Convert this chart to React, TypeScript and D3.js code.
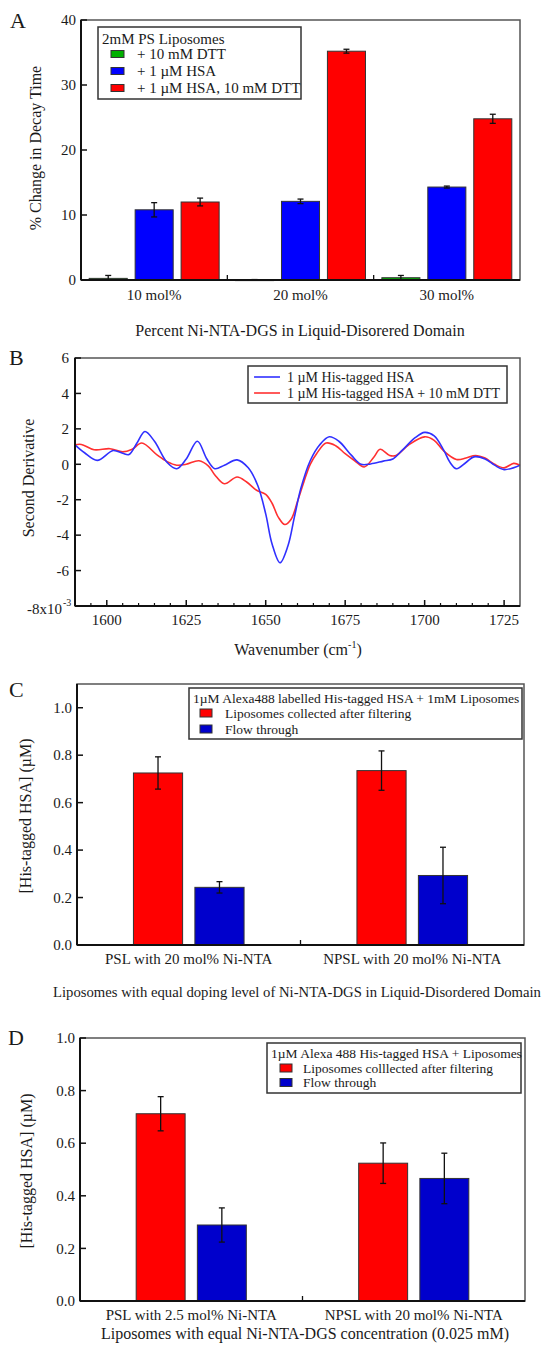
import React from 'react';
import * as d3 from 'd3';

const FONT = '"Liberation Serif","Times New Roman",Times,serif';
const INK = '#1a1a1a';

// ---------- Panel A ----------
const aCategories = ['10 mol%', '20 mol%', '30 mol%'];
const aLegendTitle = '2mM PS Liposomes';
const aSeriesNames = ['+ 10 mM DTT', '+ 1 µM HSA', '+ 1 µM HSA, 10 mM DTT'];
const aDTT = [0.25, 0.03, 0.35];
const aDTTErr = [0.45, 0.04, 0.35];
const aHSA = [10.8, 12.1, 14.3];
const aHSAErr = [1.1, 0.35, 0.15];
const aHSADTT = [12.0, 35.2, 24.8];
const aHSADTTErr = [0.6, 0.3, 0.7];
const aYTicks = [0, 10, 20, 30, 40];

// ---------- Panel B ----------
const bLegend = ['1 µM His-tagged HSA', '1 µM His-tagged HSA + 10 mM DTT'];
const bXTicks = [1600, 1625, 1650, 1675, 1700, 1725];
const bYTicks = [6, 4, 2, 0, -2, -4, -6];
const blueWn = [1590, 1593, 1597, 1602, 1605, 1607, 1609.5, 1612, 1615, 1619, 1622, 1625, 1628.5, 1631.5, 1634, 1637, 1641, 1644.5, 1647.5, 1650, 1652, 1654.5, 1657, 1659, 1661, 1664, 1667, 1670, 1673, 1677, 1680, 1683, 1687, 1690, 1693, 1697, 1700, 1703, 1706, 1708, 1710, 1713, 1715.5, 1719, 1722, 1725, 1730];
const blueVal = [1.1, 0.65, 0.22, 0.78, 0.62, 0.55, 1.2, 1.85, 1.3, 0.1, -0.25, 0.3, 1.3, 0.3, -0.25, -0.05, 0.25, -0.2, -1.2, -2.8, -4.5, -5.56, -4.6, -3.0, -1.4, 0.2, 1.1, 1.55, 1.3, 0.5, 0.0, 0.02, 0.18, 0.3, 0.8, 1.5, 1.8, 1.6, 0.8, 0.1, -0.25, 0.1, 0.42, 0.3, -0.05, -0.3, -0.05];
const redWn = [1590, 1592, 1596, 1601, 1605, 1608, 1611, 1616, 1619, 1622, 1625, 1629, 1632, 1634, 1637, 1641, 1644, 1647, 1650, 1652, 1654, 1656, 1658, 1660, 1662, 1664, 1666, 1669, 1672, 1675, 1678, 1681, 1684, 1686, 1689, 1691, 1695, 1700, 1703, 1706, 1710, 1713, 1716, 1719, 1722, 1725, 1728, 1730];
const redVal = [1.1, 1.12, 0.82, 0.88, 0.7, 0.85, 1.2, 0.5, 0.15, -0.05, 0.0, 0.2, -0.1, -0.6, -1.1, -0.72, -1.0, -1.45, -1.7, -2.2, -3.0, -3.4, -3.1, -2.1, -1.0, 0.0, 0.6, 1.2, 1.05, 0.6, 0.2, -0.15, 0.4, 0.85, 0.5, 0.5, 1.1, 1.55, 1.35, 0.75, 0.27, 0.35, 0.5, 0.35, 0.0, -0.2, 0.05, -0.05];

// ---------- Panel C ----------
const cCategories = ['PSL with 20 mol% Ni-NTA', 'NPSL with 20 mol% Ni-NTA'];
const cLegendTitle = '1µM Alexa488 labelled His-tagged HSA + 1mM Liposomes';
const cSeriesNames = ['Liposomes collected after filtering', 'Flow through'];
const cCollected = [0.725, 0.735];
const cCollectedErr = [0.068, 0.083];
const cFlow = [0.243, 0.293];
const cFlowErr = [0.024, 0.119];
const cYTicks = [0, 0.2, 0.4, 0.6, 0.8, 1.0];

// ---------- Panel D ----------
const dCategories = ['PSL with 2.5 mol% Ni-NTA', 'NPSL with 20 mol% Ni-NTA'];
const dLegendTitle = '1µM Alexa 488 His-tagged HSA + Liposomes';
const dSeriesNames = ['Liposomes colllected after filtering', 'Flow through'];
const dCollected = [0.712, 0.524];
const dCollectedErr = [0.065, 0.077];
const dFlow = [0.289, 0.466];
const dFlowErr = [0.065, 0.096];
const dYTicks = [0, 0.2, 0.4, 0.6, 0.8, 1.0];

function Frame({ left, right, top, bottom }) {
  return (
    <g>
      <rect x={left} y={top} width={right - left} height={bottom - top} fill="none" stroke="#555" strokeWidth={1.5} />
      <line x1={left} x2={left} y1={top} y2={bottom} stroke="#111" strokeWidth={2} />
      <line x1={left} x2={right} y1={bottom} y2={bottom} stroke="#111" strokeWidth={2} />
    </g>
  );
}

function Legend({ x, y, w, h, title, items, fontSize, titleDy, itemDy, itemStep, swX, swW, swH, textX, lines }) {
  return (
    <g fontFamily={FONT} fontSize={fontSize} fill={INK}>
      <rect x={x} y={y} width={w} height={h} fill="#fff" stroke="#333" strokeWidth={1.5} />
      {title && <text x={x + 4} y={y + titleDy} dy="0.35em">{title}</text>}
      {items.map((it, i) => {
        const cy = y + itemDy + i * itemStep;
        return (
          <g key={i}>
            {lines ? (
              <line x1={swX} x2={swX + swW} y1={cy} y2={cy} stroke={it.color} strokeWidth={1.6} />
            ) : (
              <rect x={swX} y={cy - swH / 2} width={swW} height={swH} fill={it.color} stroke="#333" strokeWidth={1} />
            )}
            <text x={textX} y={cy} dy="0.35em">{it.name}</text>
          </g>
        );
      })}
    </g>
  );
}

function BarPanel(p) {
  const y = d3.scaleLinear().domain([0, p.yMax]).range([p.bottom, p.top]);
  const x = d3.scaleBand().domain(p.cats).range([p.left, p.right]).padding(0);
  const bw = x.bandwidth();
  const n = p.series.length;
  const w = bw * p.barFrac;
  const step = bw * p.stepFrac;
  return (
    <g fontFamily={FONT} fill={INK}>
      <text x={p.letterX} y={p.letterY} fontSize={22}>{p.letter}</text>
      {p.cats.map((c, ci) =>
        p.series.map((s, si) => {
          const cx = (x(c) as number) + bw / 2 + (si - (n - 1) / 2) * step;
          const v = s.values[ci];
          const e = s.errs[ci];
          return (
            <g key={c + si}>
              <rect x={cx - w / 2} y={y(v)} width={w} height={Math.max(0.8, p.bottom - y(v))} fill={s.color} stroke="#333" strokeWidth={1} />
              <line x1={cx} x2={cx} y1={y(v + e)} y2={y(Math.max(0, v - e))} stroke="#111" strokeWidth={1.3} />
              <line x1={cx - 3} x2={cx + 3} y1={y(v + e)} y2={y(v + e)} stroke="#111" strokeWidth={1.3} />
              {v - e > 0 && <line x1={cx - 3} x2={cx + 3} y1={y(v - e)} y2={y(v - e)} stroke="#111" strokeWidth={1.3} />}
            </g>
          );
        })
      )}
      <Frame left={p.left} right={p.right} top={p.top} bottom={p.bottom} />
      {p.yTicks.map((t) => (
        <g key={t}>
          <line x1={p.left} x2={p.left + 6} y1={y(t)} y2={y(t)} stroke="#111" strokeWidth={1.5} />
          <text x={p.left - 5} y={y(t)} dy="0.35em" textAnchor="end" fontSize={15}>{p.fmt(t)}</text>
        </g>
      ))}
      {p.cats.slice(1).map((c) => (
        <line key={c} x1={x(c)} x2={x(c)} y1={p.bottom} y2={p.bottom - 5} stroke="#111" strokeWidth={1.3} />
      ))}
      {p.cats.map((c) => (
        <text key={c} x={(x(c) as number) + bw / 2} y={p.catY} dy="0.35em" textAnchor="middle" fontSize={15}>{c}</text>
      ))}
      <text x={p.titleX} y={p.titleY} dy="0.35em" textAnchor="middle" fontSize={p.titleSize || 16}>{p.title}</text>
      <text transform={`translate(${p.yTitleX},${p.yTitleY}) rotate(-90)`} dy="0.35em" textAnchor="middle" fontSize={16}>{p.yTitle}</text>
      <Legend {...p.legend} />
    </g>
  );
}

function LinePanel() {
  const left = 75, right = 520, top = 358, bottom = 606;
  const x = d3.scaleLinear().domain([1590, 1730]).range([left, right]);
  const y = d3.scaleLinear().domain([-8, 6]).range([bottom, top]);
  const line = d3.line<[number, number]>().x((d) => x(d[0])).y((d) => y(d[1])).curve(d3.curveCatmullRom.alpha(0.5));
  const blue = line(blueWn.map((w, i) => [w, blueVal[i]] as [number, number]));
  const red = line(redWn.map((w, i) => [w, redVal[i]] as [number, number]));
  const minor = d3.range(1595, 1730, 5).filter((v) => v % 25 !== 0);
  return (
    <g fontFamily={FONT} fill={INK}>
      <text x={9} y={365} fontSize={22}>B</text>
      <path d={red || ''} fill="none" stroke="#ff3030" strokeWidth={1.6} />
      <path d={blue || ''} fill="none" stroke="#3030ff" strokeWidth={1.6} />
      <Frame left={left} right={right} top={top} bottom={bottom} />
      {bYTicks.map((t) => (
        <g key={t}>
          <line x1={left} x2={left + 6} y1={y(t)} y2={y(t)} stroke="#111" strokeWidth={1.5} />
          <text x={left - 6} y={y(t)} dy="0.35em" textAnchor="end" fontSize={15}>{t}</text>
        </g>
      ))}
      <text x={62} y={614} textAnchor="end" fontSize={15}>-8x10</text>
      <text x={63} y={606} fontSize={10}>-3</text>
      {bXTicks.map((t) => (
        <g key={t}>
          <line x1={x(t)} x2={x(t)} y1={bottom} y2={bottom - 6} stroke="#111" strokeWidth={1.5} />
          <text x={x(t)} y={620} dy="0.35em" textAnchor="middle" fontSize={15}>{t}</text>
        </g>
      ))}
      {minor.map((t) => (
        <line key={t} x1={x(t)} x2={x(t)} y1={bottom} y2={bottom - 3} stroke="#111" strokeWidth={1.2} />
      ))}
      <text x={298} y={649} dy="0.35em" textAnchor="middle" fontSize={16}>
        Wavenumber (cm<tspan dy="-7" fontSize={10}>-1</tspan><tspan dy="7">)</tspan>
      </text>
      <text transform={`translate(28,478) rotate(-90)`} dy="0.35em" textAnchor="middle" fontSize={16}>Second Derivative</text>
      <Legend x={248} y={366} w={259} h={37} title={null} fontSize={14} itemDy={11} itemStep={16} swX={254} swW={26} textX={287} lines={true}
        items={[{ name: bLegend[0], color: '#3030ff' }, { name: bLegend[1], color: '#ff3030' }]} />
    </g>
  );
}

export default function App() {
  const f0 = (t) => String(t);
  const f1 = d3.format('.1f');
  return (
    <svg width={547} height={1353} style={{ position: 'absolute', left: 0, top: 0, background: '#fff' }}>
      <rect width={547} height={1353} fill="#fff" />
      <BarPanel
        letter="A" letterX={10} letterY={28}
        left={81} right={520} top={20} bottom={280} yMax={40} yTicks={aYTicks} fmt={f0}
        cats={aCategories} barFrac={0.26} stepFrac={0.314}
        series={[
          { values: aDTT, errs: aDTTErr, color: '#00b000' },
          { values: aHSA, errs: aHSAErr, color: '#0000ff' },
          { values: aHSADTT, errs: aHSADTTErr, color: '#ff0000' },
        ]}
        catY={295} title="Percent Ni-NTA-DGS in Liquid-Disorered Domain" titleX={300} titleY={330}
        yTitle="% Change in Decay Time" yTitleX={35} yTitleY={148}
        legend={{ x: 98, y: 27, w: 203, h: 72, title: aLegendTitle, fontSize: 15, titleDy: 12, itemDy: 27, itemStep: 17, swX: 111, swW: 13, swH: 7, textX: 137,
          items: aSeriesNames.map((nm, i) => ({ name: nm, color: ['#00b000', '#0000ff', '#ff0000'][i] })) }}
      />
      <LinePanel />
      <BarPanel
        letter="C" letterX={9} letterY={697}
        left={77} right={524} top={684} bottom={945} yMax={1.1} yTicks={cYTicks} fmt={f1}
        cats={cCategories} barFrac={0.22} stepFrac={0.275}
        series={[
          { values: cCollected, errs: cCollectedErr, color: '#ff0000' },
          { values: cFlow, errs: cFlowErr, color: '#0000cc' },
        ]}
        catY={959} title="Liposomes with equal doping level of Ni-NTA-DGS in Liquid-Disordered Domain" titleX={297} titleY={992} titleSize={14.7}
        yTitle="[His-tagged HSA] (µM)" yTitleX={25} yTitleY={816}
        legend={{ x: 189, y: 688, w: 333, h: 51, title: cLegendTitle, fontSize: 13.5, titleDy: 10, itemDy: 25, itemStep: 16, swX: 200, swW: 12, swH: 8, textX: 225,
          items: cSeriesNames.map((nm, i) => ({ name: nm, color: ['#ff0000', '#0000cc'][i] })) }}
      />
      <BarPanel
        letter="D" letterX={8} letterY={1045}
        left={80} right={525} top={1038} bottom={1301} yMax={1.0} yTicks={dYTicks} fmt={f1}
        cats={dCategories} barFrac={0.22} stepFrac={0.275}
        series={[
          { values: dCollected, errs: dCollectedErr, color: '#ff0000' },
          { values: dFlow, errs: dFlowErr, color: '#0000cc' },
        ]}
        catY={1315} title="Liposomes with equal Ni-NTA-DGS concentration (0.025 mM)" titleX={305} titleY={1333}
        yTitle="[His-tagged HSA] (µM)" yTitleX={26} yTitleY={1171}
        legend={{ x: 267, y: 1043, w: 254, h: 50, title: dLegendTitle, fontSize: 13.5, titleDy: 10, itemDy: 25, itemStep: 14.5, swX: 280, swW: 12, swH: 8, textX: 303,
          items: dSeriesNames.map((nm, i) => ({ name: nm, color: ['#ff0000', '#0000cc'][i] })) }}
      />
    </svg>
  );
}
